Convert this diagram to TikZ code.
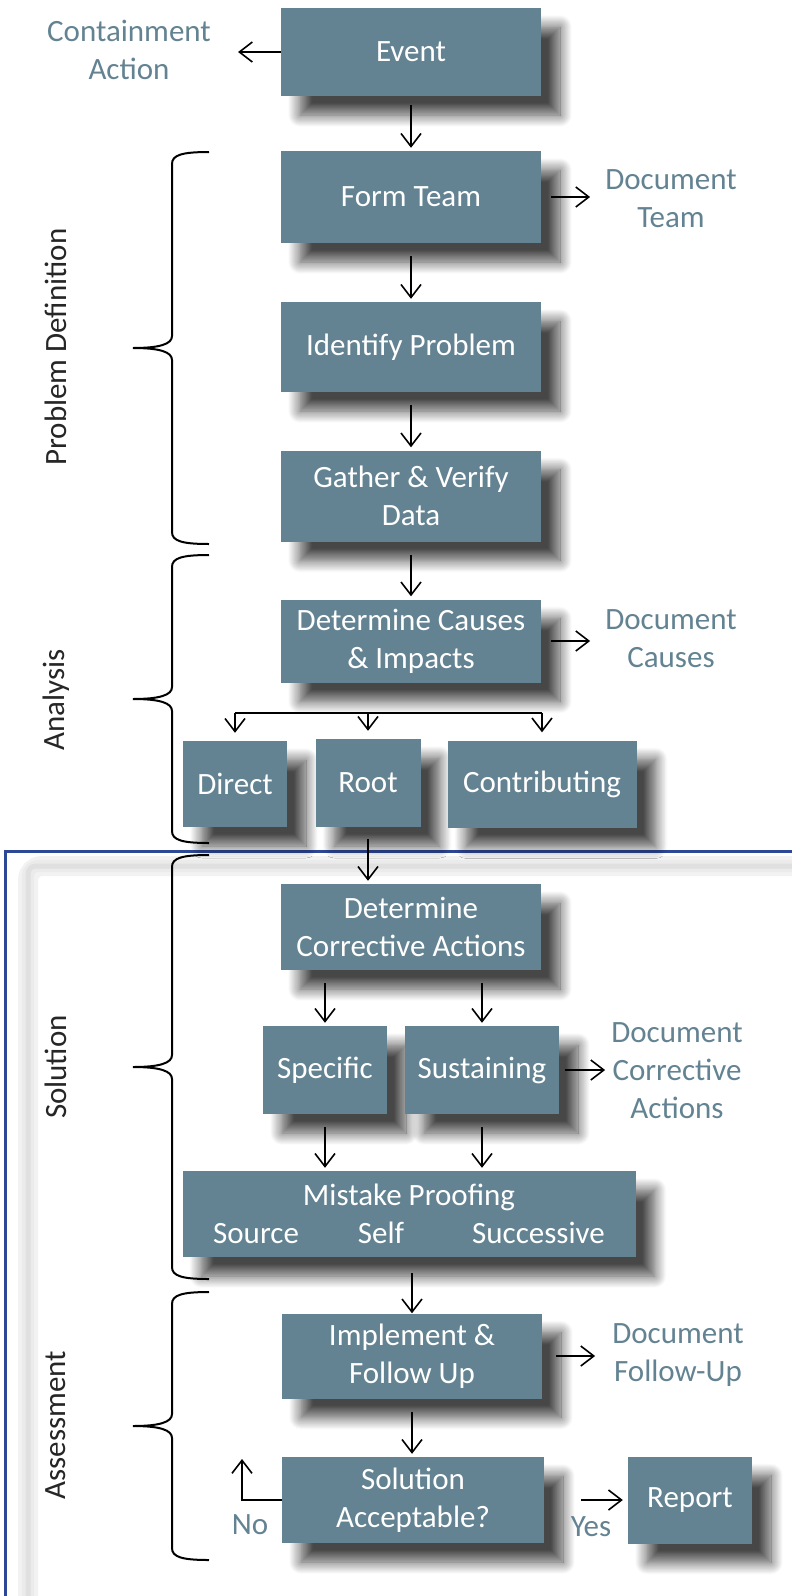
\documentclass[tikz,border=0pt]{standalone}
\usepackage{fontspec}
\setmainfont{Carlito}
\usepackage{tikz}
\usetikzlibrary{arrows.meta, shadows.blur}
\definecolor{slate}{RGB}{99,131,146}
\definecolor{frameblue}{RGB}{46,72,152}
\tikzstyle{stage} = [rectangle, minimum width=260pt, minimum height=88pt, inner sep=0pt, text centered, align=center, fill=slate, text=white, blur shadow={shadow xshift=19pt, shadow yshift=-19pt, shadow blur radius=12pt, shadow blur steps=14, shadow opacity=72}]
\tikzstyle{note} = [text=slate, align=center, inner sep=0pt]
\tikzstyle{phase} = [rotate=90, text=black!85, inner sep=0pt]
\tikzstyle{arrow} = [line width=1.6pt, -{Straight Barb[length=13pt,width=20pt]}, shorten <=13pt, shorten >=3pt]
\tikzstyle{curly} = [line width=2pt]

\begin{document}
\begin{tikzpicture}[x=1pt, y=-1pt, font=\fontsize{31}{38}\selectfont]
\useasboundingbox (0,0) rectangle (792,1596);

% frame round the lower half
\draw [line width=20pt, black!5, rounded corners=14pt] (28,1600) |- (800,866);
\draw [line width=12pt, black!8, rounded corners=10pt] (28,1600) |- (800,866);
\draw [line width=5pt, black!12, rounded corners=8pt] (28,1600) |- (800,866);
\draw [line width=3pt, frameblue] (5,1600) |- (800,851);

\node (event) [stage] at (411,52) {Event};
\node (contain) [note] at (129,50) {Containment\\Action};
\node (form) [stage, minimum height=92pt] at (411,197) {Form Team};
\node (docteam) [note] at (671,199) {Document\\Team};
\node (identify) [stage, minimum height=90pt] at (411,347) {Identify Problem};
\node (gather) [stage, minimum height=91pt] at (411,496) {Gather \& Verify\\Data};
\node (causes) [stage, minimum height=83pt] at (411,641) {Determine Causes\\\& Impacts};
\node (doccauses) [note] at (671,639) {Document\\Causes};
\node (direct) [stage, minimum width=104pt, minimum height=86pt] at (235,784) {Direct};
\node (root) [stage, minimum width=105pt] at (368,783) {Root};
\node (contrib) [stage, minimum width=189pt, minimum height=87pt] at (542,784) {Contributing};
\node (corrective) [stage, minimum height=86pt] at (411,927) {Determine\\Corrective Actions};
\node (specific) [stage, minimum width=124pt] at (325,1070) {Specific};
\node (sustain) [stage, minimum width=154pt] at (482,1070) {Sustaining};
\node (docca) [note] at (677,1071) {Document\\Corrective\\Actions};
\node (mistake) [stage, minimum width=453pt, minimum height=86pt] at (409,1214) {Mistake Proofing\\Source\hspace{59pt}Self\hspace{68pt}Successive};
\node (implement) [stage, minimum height=85pt] at (412,1356) {Implement \&\\Follow Up};
\node (docfu) [note] at (678,1355) {Document\\Follow-Up};
\node (solution) [stage, minimum width=262pt, minimum height=86pt] at (413,1500) {Solution\\Acceptable?};
\node (report) [stage, minimum width=124pt, minimum height=87pt] at (690,1500) {Report};
\node (yes) [note] at (591,1527) {Yes};
\node (no) [note] at (250,1525) {No};
\coordinate (split) at (368,713);
\coordinate (retry) at (242,1459);

% phases
\node (pdlabel) [phase] at (56,347) {Problem Definition};
\node (analabel) [phase] at (56,700) {Analysis};
\node (sollabel) [phase] at (56,1067) {Solution};
\node (asslabel) [phase] at (56,1425) {Assessment};
\draw [curly] (209,152) .. controls (182,152) and (172,155) .. (172,164) -- (172,336) .. controls (172,344) and (160,348) .. (133,348) .. controls (160,348) and (172,352) .. (172,360) -- (172,532) .. controls (172,541) and (182,544) .. (209,544);
\draw [curly] (209,555) .. controls (182,555) and (172,558) .. (172,567) -- (172,687) .. controls (172,695) and (160,699) .. (133,699) .. controls (160,699) and (172,703) .. (172,711) -- (172,831) .. controls (172,840) and (182,843) .. (209,843);
\draw [curly] (209,855) .. controls (182,855) and (172,858) .. (172,867) -- (172,1055) .. controls (172,1063) and (160,1067) .. (133,1067) .. controls (160,1067) and (172,1071) .. (172,1079) -- (172,1267) .. controls (172,1276) and (182,1279) .. (209,1279);
\draw [curly] (209,1292) .. controls (182,1292) and (172,1295) .. (172,1304) -- (172,1414) .. controls (172,1422) and (160,1426) .. (133,1426) .. controls (160,1426) and (172,1430) .. (172,1438) -- (172,1548) .. controls (172,1557) and (182,1560) .. (209,1560);

\draw [arrow, shorten <=0pt, shorten >=27pt] (event.west) -- (contain.east |- event.west);
\draw [arrow, shorten <=9pt] (event) -- (form);
\draw [arrow, shorten <=10pt, shorten >=15pt] (form.east) -- (docteam.west |- form.east);
\draw [arrow] (form) -- (identify);
\draw [arrow] (identify) -- (gather);
\draw [arrow] (gather) -- (causes);
\draw [arrow, shorten <=10pt, shorten >=15pt] (causes.east) -- (doccauses.west |- causes.east);
\draw [line width=1.6pt] (direct |- split) -- (contrib |- split);
\draw [arrow, shorten <=0pt, shorten >=8pt] (direct |- split) -- (direct);
\draw [arrow, shorten <=0pt, shorten >=8pt] (root |- split) -- (root);
\draw [arrow, shorten <=0pt, shorten >=8pt] (contrib |- split) -- (contrib);
\draw [arrow, shorten <=12pt] (root) -- (root |- corrective.north);
\draw [arrow] (specific |- corrective.south) -- (specific);
\draw [arrow] (sustain |- corrective.south) -- (sustain);
\draw [arrow, shorten <=6pt, shorten >=6pt] (sustain.east) -- (docca.west |- sustain.east);
\draw [arrow] (specific) -- (specific |- mistake.north);
\draw [arrow] (sustain) -- (sustain |- mistake.north);
\draw [arrow, shorten <=16pt, shorten >=0pt] (implement |- mistake.south) -- (implement);
\draw [arrow, shorten <=14pt, shorten >=17pt] (implement.east) -- (docfu.west |- implement.east);
\draw [arrow] (implement) -- (implement |- solution.north);
\draw [arrow, shorten <=37pt, shorten >=5pt] (solution.east) -- (report);
\draw [arrow, shorten <=0pt, shorten >=0pt] (solution.west) -| (retry);

\end{tikzpicture}
\end{document}
